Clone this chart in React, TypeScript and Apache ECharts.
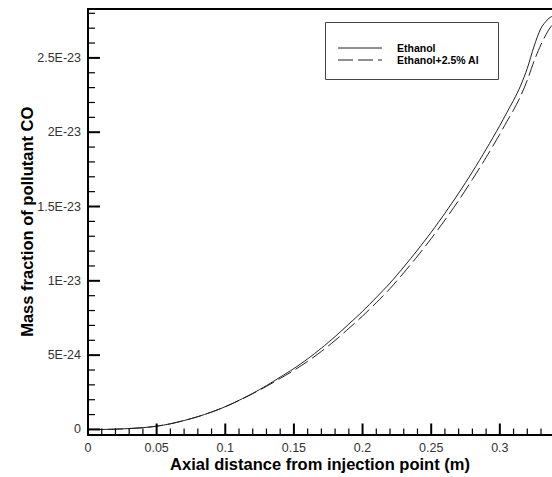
import React, { useEffect, useRef } from "react";
import * as echarts from "echarts";

const xValues = [0, 0.01, 0.02, 0.03, 0.04, 0.05, 0.06, 0.07, 0.08, 0.09, 0.1, 0.11, 0.12, 0.13, 0.14, 0.15, 0.16, 0.17, 0.18, 0.19, 0.2, 0.21, 0.22, 0.23, 0.24, 0.25, 0.26, 0.27, 0.28, 0.29, 0.3, 0.305, 0.31, 0.315, 0.32, 0.325, 0.33, 0.335, 0.338];
// values in units of 1E-24
const ethanol = [0, 0, 0.02, 0.06, 0.12, 0.22, 0.38, 0.6, 0.86, 1.17, 1.53, 1.96, 2.43, 2.95, 3.52, 4.1, 4.75, 5.47, 6.25, 7.09, 7.95, 8.88, 9.85, 10.93, 12.07, 13.27, 14.55, 15.9, 17.33, 18.85, 20.45, 21.3, 22.15, 23.1, 24.3, 25.8, 27.0, 27.6, 27.8];
const ethanolAl = [0, 0, 0.02, 0.06, 0.12, 0.22, 0.38, 0.6, 0.86, 1.17, 1.53, 1.95, 2.41, 2.9, 3.43, 3.98, 4.58, 5.25, 5.99, 6.8, 7.63, 8.53, 9.48, 10.54, 11.66, 12.84, 14.09, 15.41, 16.82, 18.3, 19.87, 20.7, 21.5, 22.4, 23.5, 24.8, 25.9, 26.8, 27.2];

const xMajorTicks = [0, 0.05, 0.1, 0.15, 0.2, 0.25, 0.3];
const xMinorTicks = [0.01, 0.02, 0.03, 0.04, 0.06, 0.07, 0.08, 0.09, 0.11, 0.12, 0.13, 0.14, 0.16, 0.17, 0.18, 0.19, 0.21, 0.22, 0.23, 0.24, 0.26, 0.27, 0.28, 0.29, 0.31, 0.32, 0.33];
const yMajorTicks = [0, 5e-24, 1e-23, 1.5e-23, 2e-23, 2.5e-23];
const yMinorTicks = [1, 2, 3, 4, 6, 7, 8, 9, 11, 12, 13, 14, 16, 17, 18, 19, 21, 22, 23, 24, 26, 27, 28].map((v) => v * 1e-24);
const seriesNames = ["Ethanol", "Ethanol+2.5% Al"];

const FONT = "Arial, 'Liberation Sans', sans-serif";

function fmtY(v: number): string {
  if (Math.abs(v) < 1e-30) return "0";
  return v.toExponential().replace("e", "E").replace("+", "");
}

export default function App() {
  const ref = useRef<HTMLDivElement>(null);
  useEffect(() => {
    if (!ref.current) return;
    const chart = echarts.init(ref.current, null, { renderer: "svg" });
    const yMin = -3.4e-25;
    const yMax = 2.829e-23;
    const xMax = 0.338;

    const tickData: number[][] = [
      ...xMajorTicks.map((v) => [0, v, 1]),
      ...xMinorTicks.map((v) => [0, v, 0]),
      ...yMajorTicks.map((v) => [1, v, 1]),
      ...yMinorTicks.map((v) => [1, v, 0]),
    ];

    chart.setOption({
      animation: false,
      backgroundColor: "#ffffff",
      grid: { left: 88, top: 9, right: 0, bottom: 42 },
      graphic: [
        {
          type: "rect",
          left: 325,
          top: 22,
          shape: { width: 173, height: 57 },
          style: { fill: "#fff", stroke: "#444", lineWidth: 1 },
          z: 10,
        },
        {
          type: "line",
          shape: { x1: 338, y1: 48, x2: 382, y2: 48 },
          style: { stroke: "#222", lineWidth: 1 },
          z: 11,
        },
        {
          type: "line",
          shape: { x1: 338, y1: 60, x2: 382, y2: 60 },
          style: { stroke: "#222", lineWidth: 1, lineDash: [15, 5] },
          z: 11,
        },
        {
          type: "text",
          x: 397,
          y: 48,
          style: { text: seriesNames[0], font: "bold 10.5px " + FONT, fill: "#000", verticalAlign: "middle" },
          z: 11,
        },
        {
          type: "text",
          x: 397,
          y: 60,
          style: { text: seriesNames[1], font: "bold 10.5px " + FONT, fill: "#000", verticalAlign: "middle" },
          z: 11,
        },
      ],
      xAxis: [
        {
          type: "value",
          min: 0,
          max: xMax,
          interval: 0.05,
          position: "bottom",
          name: "Axial distance from injection point (m)",
          nameLocation: "middle",
          nameGap: 22,
          nameMoveOverlap: false,
          nameTextStyle: { fontFamily: FONT, fontSize: 16.5, fontWeight: "bold", color: "#000", lineHeight: 14 },
          axisLine: { show: true, onZero: false, lineStyle: { color: "#000", width: 2 } },
          axisTick: { show: false },
          minorTick: { show: false },
          splitLine: { show: false },
          axisLabel: {
            show: true,
            margin: 7,
            showMaxLabel: false,
            fontFamily: FONT,
            fontSize: 12.5,
            lineHeight: 12,
            color: "#333",
            formatter: (v: number) => String(Math.round(v * 1000) / 1000),
          },
        },
        {
          type: "value",
          min: 0,
          max: xMax,
          position: "top",
          axisLine: { show: true, onZero: false, lineStyle: { color: "#000", width: 2 } },
          axisTick: { show: false },
          axisLabel: { show: false },
          splitLine: { show: false },
        },
      ],
      yAxis: [
        {
          type: "value",
          min: yMin,
          max: yMax,
          position: "left",
          name: "Mass fraction of pollutant CO",
          nameLocation: "middle",
          nameGap: 53,
          nameMoveOverlap: false,
          nameTextStyle: { fontFamily: FONT, fontSize: 16.5, fontWeight: "bold", color: "#000" },
          axisLine: { show: true, onZero: false, lineStyle: { color: "#000", width: 2 } },
          axisTick: { show: false },
          splitLine: { show: false },
          axisLabel: {
            show: true,
            margin: 7,
            customValues: yMajorTicks,
            fontFamily: FONT,
            fontSize: 12.5,
            color: "#333",
            formatter: (v: number) => fmtY(v),
          },
        },
      ],
      series: [
        {
          name: "ticks",
          type: "custom",
          coordinateSystem: "cartesian2d",
          xAxisIndex: 0,
          yAxisIndex: 0,
          clip: false,
          silent: true,
          z: 5,
          data: tickData,
          dimensions: ["axis", "v", "major"],
          encode: { x: 1, y: 1 },
          renderItem: (params: any, api: any) => {
            const axis = api.value(0);
            const v = api.value(1);
            const major = api.value(2) === 1;
            if (axis === 0) {
              const p = api.coord([v, yMin]);
              const len = major ? 11 : 6;
              return {
                type: "line",
                shape: { x1: p[0], y1: p[1], x2: p[0], y2: p[1] - len },
                style: { stroke: "#000", lineWidth: major ? 2 : 1.2 },
              };
            }
            const p = api.coord([0, v]);
            const len = major ? 12 : 7;
            return {
              type: "line",
              shape: { x1: p[0], y1: p[1], x2: p[0] + len, y2: p[1] },
              style: { stroke: "#000", lineWidth: major ? 2 : 1.2 },
            };
          },
        },
        {
          name: seriesNames[0],
          type: "line",
          xAxisIndex: 0,
          yAxisIndex: 0,
          showSymbol: false,
          symbol: "none",
          smooth: 0.3,
          data: xValues.map((x, i) => [x, ethanol[i] * 1e-24]),
          lineStyle: { color: "#222", width: 1, type: "solid" },
          itemStyle: { color: "#222" },
        },
        {
          name: seriesNames[1],
          type: "line",
          xAxisIndex: 0,
          yAxisIndex: 0,
          showSymbol: false,
          symbol: "none",
          smooth: 0.3,
          data: xValues.map((x, i) => [x, ethanolAl[i] * 1e-24]),
          lineStyle: { color: "#222", width: 1, type: [15, 5] },
          itemStyle: { color: "#222" },
        },
      ],
    });
    return () => chart.dispose();
  }, []);
  return (
    <div
      ref={ref}
      style={{ position: "absolute", left: 0, top: 0, width: 552, height: 477, background: "#fff" }}
    />
  );
}
